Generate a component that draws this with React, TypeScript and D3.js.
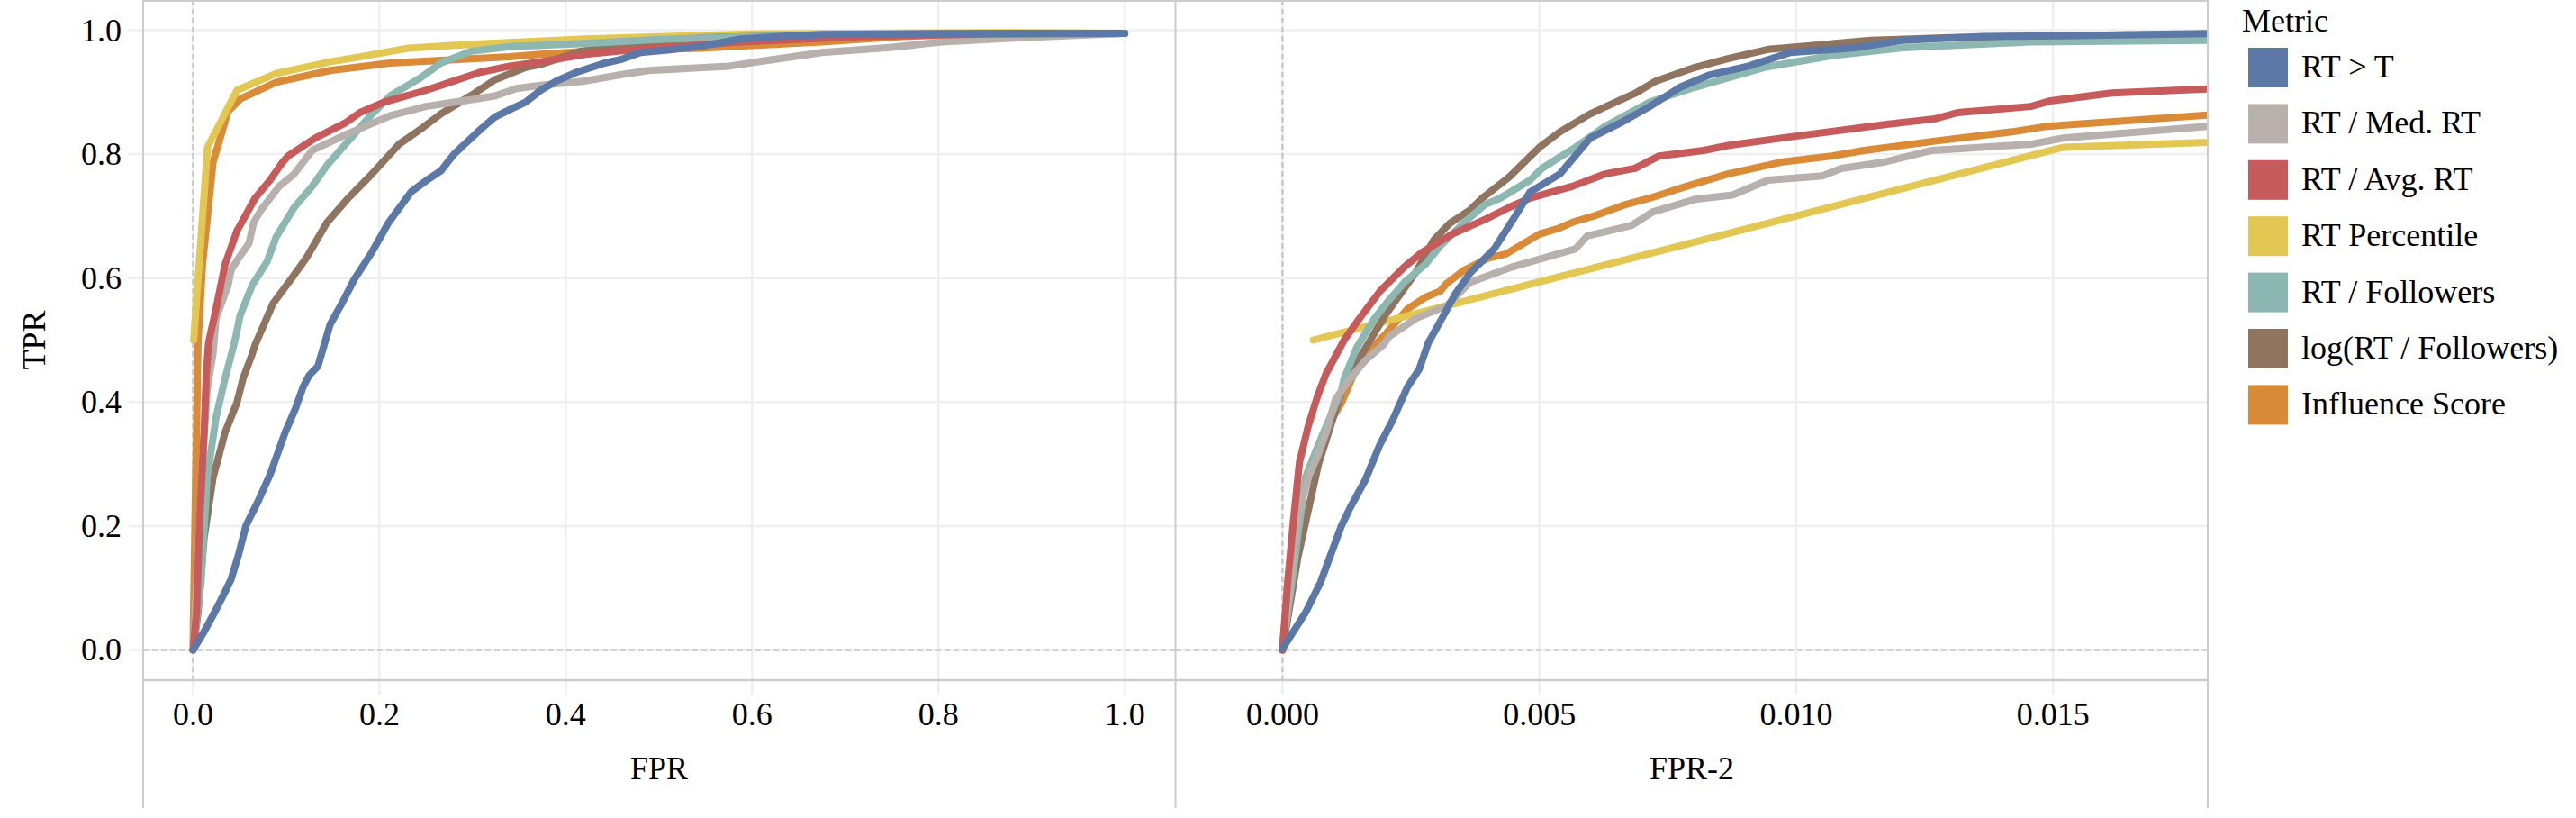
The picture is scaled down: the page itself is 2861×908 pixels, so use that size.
import React, { useEffect } from "react";
import * as d3 from "d3";

// ---------- DATA ----------
const metrics = [
  "RT > T",
  "RT / Med. RT",
  "RT / Avg. RT",
  "RT Percentile",
  "RT / Followers",
  "log(RT / Followers)",
  "Influence Score",
];
const colors = ["#5b78a6", "#b8b0ac", "#c75a5a", "#e2c853", "#8db7b1", "#8f7460", "#da8b38"];

const yTicks = [0, 0.2, 0.4, 0.6, 0.8, 1.0];
const xTicksFPR = [0, 0.2, 0.4, 0.6, 0.8, 1.0];
const xTicksFPR2 = [0, 0.005, 0.01, 0.015];

// Panel 1: FPR vs TPR
const fprRTgtT = [[0,0],[0.012,0.03],[0.0246,0.065],[0.033,0.09],[0.0408,0.114],[0.049,0.155],[0.0568,0.201],[0.0698,0.24],[0.0826,0.283],[0.0988,0.351],[0.11,0.39],[0.118,0.424],[0.1245,0.443],[0.134,0.458],[0.147,0.525],[0.16,0.56],[0.173,0.598],[0.192,0.642],[0.21,0.69],[0.234,0.739],[0.25,0.757],[0.266,0.773],[0.28,0.8],[0.295,0.821],[0.31,0.842],[0.324,0.86],[0.34,0.872],[0.357,0.884],[0.373,0.903],[0.39,0.918],[0.4115,0.932],[0.4417,0.947],[0.46,0.953],[0.4805,0.964],[0.51,0.968],[0.545,0.974],[0.588,0.986],[0.63,0.99],[0.675,0.993],[0.75,0.994],[0.804,0.9945],[0.9,0.995],[1.0,0.995]];
const fprMed = [[0,0],[0.002,0.05],[0.0053,0.157],[0.0101,0.303],[0.015,0.42],[0.0214,0.478],[0.0246,0.535],[0.0375,0.588],[0.0408,0.613],[0.05,0.635],[0.06,0.656],[0.065,0.69],[0.073,0.71],[0.0923,0.748],[0.1085,0.768],[0.1278,0.806],[0.145,0.818],[0.163,0.831],[0.185,0.845],[0.2115,0.862],[0.25,0.877],[0.29,0.886],[0.324,0.894],[0.347,0.906],[0.3727,0.911],[0.421,0.918],[0.4587,0.928],[0.489,0.935],[0.5755,0.942],[0.62,0.952],[0.675,0.964],[0.748,0.972],[0.804,0.981],[0.89,0.988],[1.0,0.995]];
const fprAvg = [[0,0],[0.0037,0.06],[0.007,0.206],[0.0118,0.351],[0.014,0.44],[0.0166,0.496],[0.0246,0.55],[0.0343,0.622],[0.047,0.676],[0.0665,0.729],[0.0826,0.758],[0.095,0.785],[0.102,0.797],[0.131,0.826],[0.163,0.85],[0.179,0.867],[0.205,0.884],[0.25,0.903],[0.28,0.918],[0.308,0.932],[0.34,0.942],[0.373,0.949],[0.421,0.961],[0.476,0.969],[0.588,0.981],[0.718,0.99],[0.85,0.994],[1.0,0.995]];
const fprPct = [[0.0006,0.5],[0.0155,0.811],[0.047,0.903],[0.089,0.93],[0.147,0.949],[0.179,0.957],[0.231,0.971],[0.308,0.978],[0.421,0.986],[0.6,0.994],[0.869,0.996],[1.0,0.995]];
const fprFol = [[0,0],[0.004,0.05],[0.0085,0.109],[0.015,0.278],[0.0246,0.375],[0.0343,0.438],[0.045,0.5],[0.0505,0.54],[0.0633,0.588],[0.0795,0.627],[0.089,0.666],[0.1085,0.714],[0.1278,0.748],[0.1438,0.782],[0.1665,0.821],[0.186,0.855],[0.2115,0.894],[0.244,0.923],[0.266,0.947],[0.2985,0.966],[0.34,0.9735],[0.421,0.9785],[0.5,0.985],[0.6,0.99],[0.8,0.994],[1.0,0.995]];
const fprLogFol = [[0,0],[0.0053,0.06],[0.0118,0.181],[0.0214,0.278],[0.0343,0.351],[0.047,0.399],[0.0536,0.438],[0.0633,0.477],[0.0665,0.492],[0.0858,0.559],[0.105,0.598],[0.1213,0.632],[0.1438,0.69],[0.1665,0.729],[0.192,0.768],[0.221,0.816],[0.244,0.84],[0.266,0.865],[0.302,0.898],[0.324,0.92],[0.357,0.94],[0.3727,0.9445],[0.416,0.966],[0.47,0.978],[0.55,0.988],[0.7,0.993],[1.0,0.995]];
const fprInfl = [[0,0.01],[0.002,0.206],[0.0037,0.351],[0.0053,0.496],[0.01,0.62],[0.0214,0.787],[0.0375,0.869],[0.0505,0.889],[0.089,0.916],[0.147,0.935],[0.2115,0.947],[0.276,0.952],[0.34,0.957],[0.3727,0.961],[0.421,0.966],[0.545,0.971],[0.675,0.981],[0.761,0.99],[0.85,0.994],[1.0,0.995]];

// Panel 2: FPR-2 vs TPR
const fpr2RTgtT = [[0,0.002],[0.000446,0.06],[0.00074,0.109],[0.00115,0.201],[0.00132,0.23],[0.00161,0.274],[0.0019,0.332],[0.00214,0.37],[0.00243,0.424],[0.00266,0.453],[0.00284,0.496],[0.00307,0.53],[0.00336,0.574],[0.00365,0.608],[0.00412,0.647],[0.00453,0.7],[0.00482,0.739],[0.0054,0.768],[0.00599,0.826],[0.00657,0.85],[0.00715,0.877],[0.00774,0.908],[0.00832,0.928],[0.00907,0.942],[0.00989,0.964],[0.01114,0.9715],[0.01207,0.9835],[0.01364,0.99],[0.0152,0.991],[0.018,0.9945],[0.02,0.995]];
const fpr2Med = [[0,0],[0.00015,0.109],[0.00021,0.157],[0.00033,0.225],[0.0005,0.278],[0.00068,0.312],[0.00085,0.351],[0.00103,0.404],[0.00132,0.438],[0.00161,0.467],[0.00196,0.492],[0.00208,0.506],[0.0026,0.535],[0.00319,0.555],[0.00365,0.593],[0.00447,0.618],[0.0057,0.647],[0.00593,0.668],[0.0068,0.685],[0.00721,0.707],[0.00803,0.727],[0.00876,0.734],[0.00945,0.758],[0.01051,0.765],[0.01088,0.777],[0.0117,0.787],[0.01264,0.806],[0.01457,0.816],[0.0152,0.826],[0.018,0.845],[0.02,0.855]];
const fpr2Avg = [[0,0],[0.0001,0.109],[0.00021,0.206],[0.00033,0.303],[0.0005,0.361],[0.00068,0.409],[0.00085,0.446],[0.0012,0.5],[0.0015,0.535],[0.0019,0.579],[0.00237,0.618],[0.00272,0.642],[0.0033,0.671],[0.00395,0.695],[0.00441,0.714],[0.00482,0.729],[0.00564,0.748],[0.00628,0.768],[0.00686,0.777],[0.00733,0.797],[0.0082,0.806],[0.00867,0.814],[0.00989,0.828],[0.01176,0.848],[0.0127,0.857],[0.01314,0.867],[0.01457,0.877],[0.01495,0.886],[0.01614,0.8985],[0.018,0.905],[0.02,0.91]];
const fpr2Pct = [[0.0006,0.5],[0.0152,0.811],[0.047,0.903]];
const fpr2Fol = [[0,0],[0.0002,0.12],[0.000446,0.278],[0.0008,0.351],[0.00115,0.419],[0.0012,0.438],[0.00144,0.487],[0.00179,0.535],[0.00202,0.559],[0.00237,0.593],[0.00278,0.622],[0.00307,0.652],[0.00354,0.69],[0.00395,0.719],[0.00424,0.729],[0.00482,0.758],[0.00505,0.777],[0.0057,0.811],[0.00628,0.845],[0.00715,0.884],[0.00803,0.908],[0.00867,0.923],[0.00938,0.94],[0.0107,0.959],[0.01207,0.9715],[0.01457,0.981],[0.018,0.9835],[0.02,0.985]];
const fpr2LogFol = [[0,0],[0.0003,0.15],[0.0007,0.3],[0.0012,0.43],[0.002,0.54],[0.0026,0.61],[0.00295,0.662],[0.00325,0.688],[0.00365,0.71],[0.00389,0.729],[0.00441,0.763],[0.005,0.811],[0.0054,0.836],[0.00599,0.865],[0.00686,0.898],[0.00727,0.918],[0.00803,0.94],[0.00867,0.954],[0.00945,0.969],[0.01145,0.9835],[0.013,0.988],[0.016,0.992],[0.02,0.995]];
const fpr2Infl = [[0,0],[0.0001,0.1],[0.00025,0.2],[0.0005,0.29],[0.0008,0.35],[0.00115,0.399],[0.0015,0.467],[0.00202,0.511],[0.00243,0.55],[0.00278,0.569],[0.00307,0.579],[0.00319,0.591],[0.00354,0.613],[0.004,0.632],[0.00435,0.639],[0.005,0.671],[0.0054,0.681],[0.00564,0.69],[0.00605,0.7],[0.00669,0.719],[0.00715,0.729],[0.00786,0.748],[0.00867,0.768],[0.0097,0.787],[0.0107,0.797],[0.01132,0.806],[0.0127,0.821],[0.0142,0.836],[0.01489,0.845],[0.018,0.863],[0.02,0.87]];

const panel1Series = [fprRTgtT, fprMed, fprAvg, fprPct, fprFol, fprLogFol, fprInfl];
const panel2Series = [fpr2RTgtT, fpr2Med, fpr2Avg, fpr2Pct, fpr2Fol, fpr2LogFol, fpr2Infl];

// ---------- LAYOUT ----------
const W = 2861;
const H = 908;
const FONT = "'Liberation Serif', 'Times New Roman', Times, serif";
const FS = 36;
const plotTop = 0;
const plotBottom = 755;
const axisBottom = 897;
const p1 = { left: 159, right: 1305 };
const p2 = { left: 1306, right: 2452 };
const drawOrder = [6, 3, 5, 4, 1, 2, 0];

const yScale = d3.scaleLinear().domain([-0.0487, 1.0487]).range([plotBottom, plotTop]);
const x1 = d3.scaleLinear().domain([-0.0536, 1.054]).range([p1.left, p1.right]);
const x2 = d3.scaleLinear().domain([-0.002075, 0.01801]).range([p2.left, p2.right]);

function Panel({ id, xs, ticks, fmt, series, label, showY }) {
  const [l, r] = xs.range();
  const line = d3
    .line()
    .x((d) => xs(d[0]))
    .y((d) => yScale(d[1]))
    .curve(d3.curveLinear);
  return (
    <g>
      <defs>
        <clipPath id={id}>
          <rect x={l} y={plotTop} width={r - l} height={plotBottom - plotTop} />
        </clipPath>
      </defs>
      {yTicks.map((t) => (
        <line key={"hy" + t} x1={showY ? l - 16 : l} x2={r} y1={yScale(t)} y2={yScale(t)} stroke="#efefef" strokeWidth={2.5} />
      ))}
      {ticks.map((t) => (
        <line key={"vx" + t} x1={xs(t)} x2={xs(t)} y1={plotTop} y2={plotBottom + 16} stroke="#efefef" strokeWidth={2.5} />
      ))}
      <line x1={xs(0)} x2={xs(0)} y1={plotTop} y2={plotBottom} stroke="#c9c9c9" strokeWidth={2.5} strokeDasharray="6,4" />
      <line x1={l} x2={r} y1={yScale(0)} y2={yScale(0)} stroke="#c9c9c9" strokeWidth={2.5} strokeDasharray="6,4" />
      <g clipPath={`url(#${id})`}>
        {drawOrder.map((i) => (
          <path
            key={metrics[i]}
            d={line(series[i])}
            fill="none"
            stroke={colors[i]}
            strokeWidth={8}
            strokeLinecap="round"
            strokeLinejoin="round"
          />
        ))}
      </g>
      {ticks.map((t) => (
        <text key={"tx" + t} x={xs(t)} y={805} textAnchor="middle" fontFamily={FONT} fontSize={FS} fill="#000">
          {d3.format(fmt)(t)}
        </text>
      ))}
      <text x={(l + r) / 2} y={865} textAnchor="middle" fontFamily={FONT} fontSize={FS} fill="#000">
        {label}
      </text>
      {showY &&
        yTicks.map((t) => (
          <text key={"ty" + t} x={135} y={yScale(t) + 12} textAnchor="end" fontFamily={FONT} fontSize={FS} fill="#000">
            {d3.format(".1f")(t)}
          </text>
        ))}
    </g>
  );
}

export default function App() {
  useEffect(() => {
    document.body.style.margin = "0";
  }, []);
  const border = "#cccccc";
  return (
    <svg width={W} height={H} style={{ position: "absolute", left: 0, top: 0, background: "#fff" }}>
      <rect x={0} y={0} width={W} height={H} fill="#fff" />
      <Panel id="clip1" xs={x1} ticks={xTicksFPR} fmt=".1f" series={panel1Series} label="FPR" showY={true} />
      <Panel id="clip2" xs={x2} ticks={xTicksFPR2} fmt=".3f" series={panel2Series} label="FPR-2" showY={false} />
      <line x1={p1.left} x2={p2.right} y1={1} y2={1} stroke={border} strokeWidth={2} />
      <line x1={p1.left} x2={p2.right} y1={plotBottom} y2={plotBottom} stroke={border} strokeWidth={2.5} />
      {[p1.left, p1.right + 0.5, p2.right].map((x) => (
        <line key={"f" + x} x1={x} x2={x} y1={0} y2={axisBottom} stroke={border} strokeWidth={2} />
      ))}
      <text
        transform={`translate(${50},${(plotTop + plotBottom) / 2}) rotate(-90)`}
        textAnchor="middle"
        fontFamily={FONT}
        fontSize={FS}
        fill="#000"
      >
        TPR
      </text>
      <text x={2490} y={35} fontFamily={FONT} fontSize={FS} fill="#000">
        Metric
      </text>
      {metrics.map((m, i) => {
        const cy = 75 + i * 62.4;
        return (
          <g key={m}>
            <rect x={2497} y={cy - 22} width={44} height={44} fill={colors[i]} />
            <text x={2556} y={cy + 11} fontFamily={FONT} fontSize={FS} fill="#000">
              {m}
            </text>
          </g>
        );
      })}
    </svg>
  );
}
